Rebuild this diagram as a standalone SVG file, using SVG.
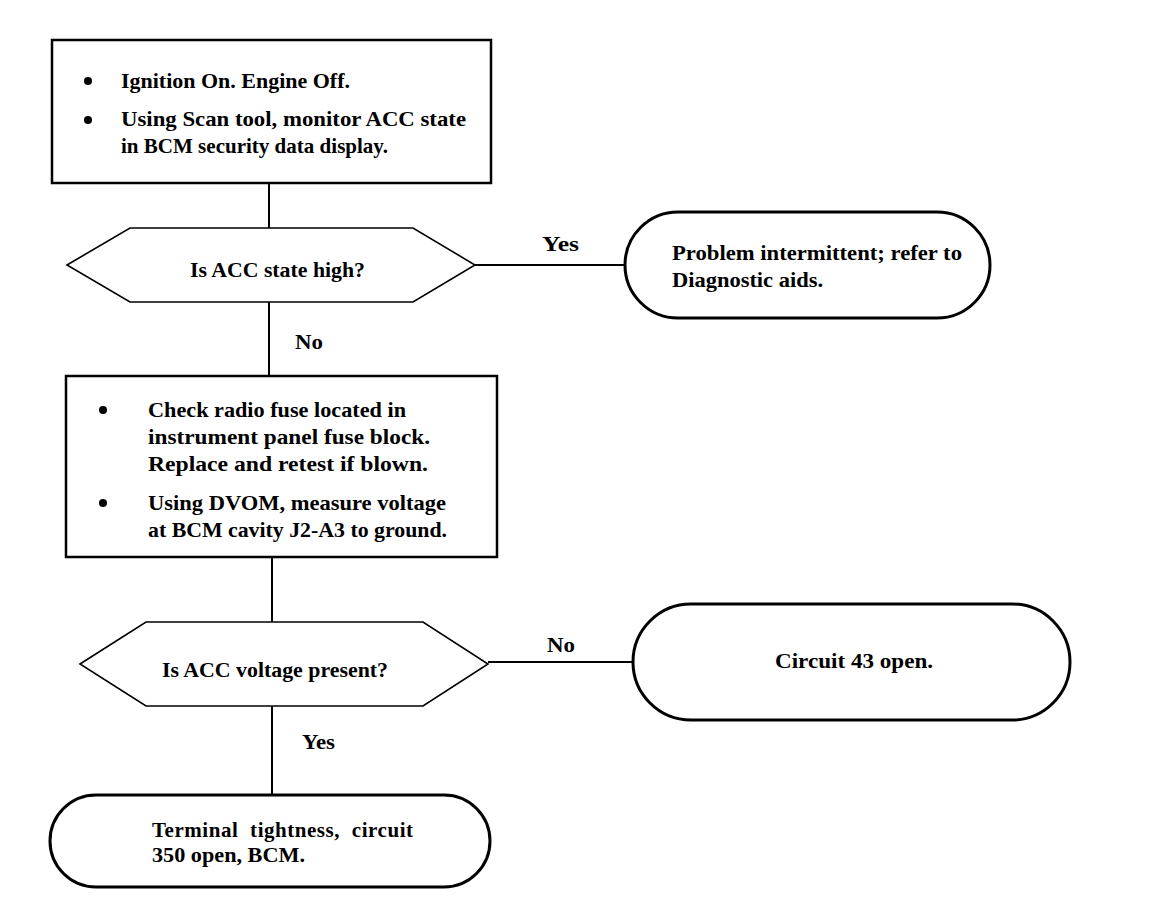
<svg xmlns="http://www.w3.org/2000/svg" width="1152" height="920" viewBox="0 0 1152 920">
<style>
.box{fill:#fff;stroke:#000;stroke-width:2.5}
.term{fill:#fff;stroke:#000;stroke-width:3}
.hex{fill:#fff;stroke:#000;stroke-width:1.6}
.ln{stroke:#000;stroke-width:2;fill:none}
.t{font-family:"Liberation Serif","Times New Roman",serif;font-size:21px;font-weight:bold;fill:#000}
</style>
<rect width="1152" height="920" fill="#fff"/>
<g id="connectors">
<line class="ln" x1="269" y1="183" x2="269" y2="228"/>
<line class="ln" x1="269" y1="302" x2="269" y2="376"/>
<line class="ln" x1="475" y1="265" x2="625" y2="265"/>
<line class="ln" x1="272" y1="557" x2="272" y2="622"/>
<line class="ln" x1="488" y1="662" x2="633" y2="662"/>
<line class="ln" x1="272" y1="705" x2="272" y2="795"/>
<text class="t" x="542" y="251" textLength="37" lengthAdjust="spacingAndGlyphs">Yes</text>
<text class="t" x="295" y="349" textLength="28" lengthAdjust="spacingAndGlyphs">No</text>
<text class="t" x="547" y="652" textLength="28" lengthAdjust="spacingAndGlyphs">No</text>
<text class="t" x="302" y="749" textLength="33" lengthAdjust="spacingAndGlyphs">Yes</text>
</g>
<g id="box1">
<rect class="box" x="52" y="40" width="439" height="143"/>
<circle cx="88" cy="81" r="4"/>
<circle cx="88" cy="120" r="4"/>
<text class="t" x="121" y="88" textLength="229" lengthAdjust="spacingAndGlyphs">Ignition On. Engine Off.</text>
<text class="t" x="121" y="126" textLength="345" lengthAdjust="spacingAndGlyphs">Using Scan tool, monitor ACC state</text>
<text class="t" x="121" y="153" textLength="267" lengthAdjust="spacingAndGlyphs">in BCM security data display.</text>
</g>
<g id="decision1">
<polygon class="hex" points="67,265 130,228 413,228 475,265 413,302 130,302"/>
<text class="t" x="190" y="277" textLength="175" lengthAdjust="spacingAndGlyphs">Is ACC state high?</text>
</g>
<g id="term1">
<rect class="term" x="625" y="212" width="365" height="106" rx="53" ry="53"/>
<text class="t" x="672" y="260" textLength="290" lengthAdjust="spacingAndGlyphs">Problem intermittent; refer to</text>
<text class="t" x="672" y="287" textLength="151" lengthAdjust="spacingAndGlyphs">Diagnostic aids.</text>
</g>
<g id="box2">
<rect class="box" x="66" y="376" width="431" height="181"/>
<circle cx="103" cy="410" r="4"/>
<circle cx="103" cy="503" r="4"/>
<text class="t" x="148" y="417" textLength="258" lengthAdjust="spacingAndGlyphs">Check radio fuse located in</text>
<text class="t" x="148" y="444" textLength="282" lengthAdjust="spacingAndGlyphs">instrument panel fuse block.</text>
<text class="t" x="148" y="471" textLength="280" lengthAdjust="spacingAndGlyphs">Replace and retest if blown.</text>
<text class="t" x="148" y="510" textLength="298" lengthAdjust="spacingAndGlyphs">Using DVOM, measure voltage</text>
<text class="t" x="148" y="537" textLength="299" lengthAdjust="spacingAndGlyphs">at BCM cavity J2-A3 to ground.</text>
</g>
<g id="decision2">
<polygon class="hex" points="80,664 146,622 423,622 488,664 423,706 146,706"/>
<text class="t" x="162" y="677" textLength="226" lengthAdjust="spacingAndGlyphs">Is ACC voltage present?</text>
</g>
<g id="term2">
<rect class="term" x="633" y="604" width="437" height="116" rx="58" ry="58"/>
<text class="t" x="775" y="668" textLength="158" lengthAdjust="spacingAndGlyphs">Circuit 43 open.</text>
</g>
<g id="term3">
<rect class="term" x="50" y="795" width="440" height="92" rx="46" ry="46"/>
<text class="t" x="152" y="837" textLength="261" lengthAdjust="spacing" word-spacing="6">Terminal tightness, circuit</text>
<text class="t" x="152" y="862" textLength="153" lengthAdjust="spacingAndGlyphs">350 open, BCM.</text>
</g>
</svg>
